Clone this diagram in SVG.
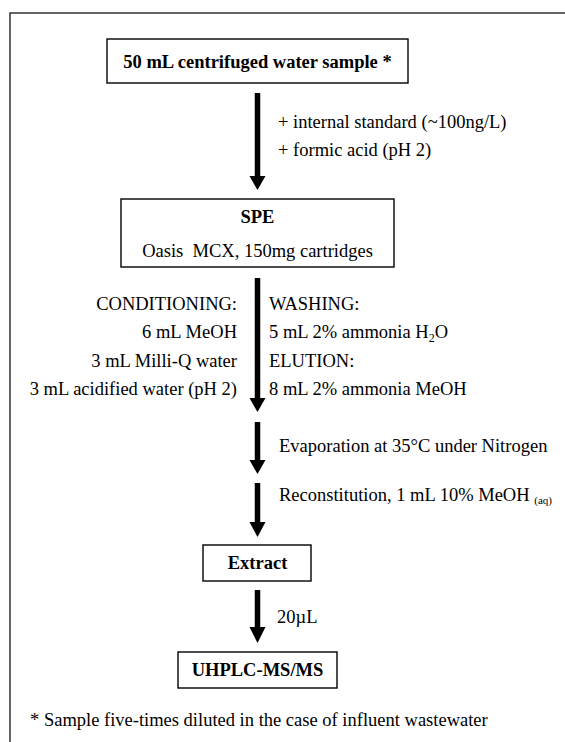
<svg xmlns="http://www.w3.org/2000/svg" width="565" height="742" viewBox="0 0 565 742">
<style>
text{font-family:"Liberation Serif","Times New Roman",serif;font-size:18.5px;fill:#000}
.b{font-weight:bold}
.c{text-anchor:middle}
.r{text-anchor:end}
.box{fill:#fff;stroke:#000;stroke-width:1.4}
.shaft{stroke:#000;stroke-width:5.5}
.head{fill:#000}
</style>
<rect x="10" y="13" width="620" height="800" fill="#fff" stroke="#333" stroke-width="1.5"/>
<g id="connectors">
<g id="a1"><line class="shaft" x1="257.5" y1="93" x2="257.5" y2="178"/><polygon class="head" points="249.5,176 265.5,176 257.5,190"/></g>
<g id="a2"><line class="shaft" x1="257.5" y1="278" x2="257.5" y2="400"/><polygon class="head" points="249.5,398 265.5,398 257.5,412"/></g>
<g id="a3"><line class="shaft" x1="257.5" y1="422" x2="257.5" y2="462"/><polygon class="head" points="249.5,460 265.5,460 257.5,474"/></g>
<g id="a4"><line class="shaft" x1="257.5" y1="483" x2="257.5" y2="524"/><polygon class="head" points="249.5,522 265.5,522 257.5,537"/></g>
<g id="a5"><line class="shaft" x1="257.5" y1="590" x2="257.5" y2="629"/><polygon class="head" points="249.5,627 265.5,627 257.5,643"/></g>
<text x="278" y="128">+ internal standard (~100ng/L)</text>
<text x="278" y="156">+ formic acid (pH 2)</text>
<text class="r" x="237" y="310">CONDITIONING:</text>
<text class="r" x="237" y="338">6 mL MeOH</text>
<text class="r" x="237" y="367">3 mL Milli-Q water</text>
<text class="r" x="237" y="395">3 mL acidified water (pH 2)</text>
<text x="269" y="310">WASHING:</text>
<text x="269" y="338">5 mL 2% ammonia H<tspan font-size="12" dy="4">2</tspan><tspan dy="-4">O</tspan></text>
<text x="269" y="367">ELUTION:</text>
<text x="269" y="395">8 mL 2% ammonia MeOH</text>
<text x="279" y="452">Evaporation at 35°C under Nitrogen</text>
<text x="279" y="501">Reconstitution, 1 mL 10% MeOH <tspan font-size="11" dy="3">(aq)</tspan></text>
<text x="277" y="623">20µL</text>
</g>
<g id="n1"><rect class="box" x="107" y="39" width="301" height="44"/><text class="b c" x="257.5" y="68">50 mL centrifuged water sample *</text></g>
<g id="n2"><rect class="box" x="121" y="199" width="273" height="68"/><text class="b c" x="257.5" y="223">SPE</text><text class="c" x="257.5" y="256.5" xml:space="preserve">Oasis  MCX, 150mg cartridges</text></g>
<g id="n3"><rect class="box" x="203" y="545" width="108" height="36"/><text class="b c" x="257.5" y="569">Extract</text></g>
<g id="n4"><rect class="box" x="178" y="652" width="159" height="36"/><text class="b c" x="257.5" y="676">UHPLC-MS/MS</text></g>
<text x="30" y="726">* Sample five-times diluted in the case of influent wastewater</text>
</svg>
